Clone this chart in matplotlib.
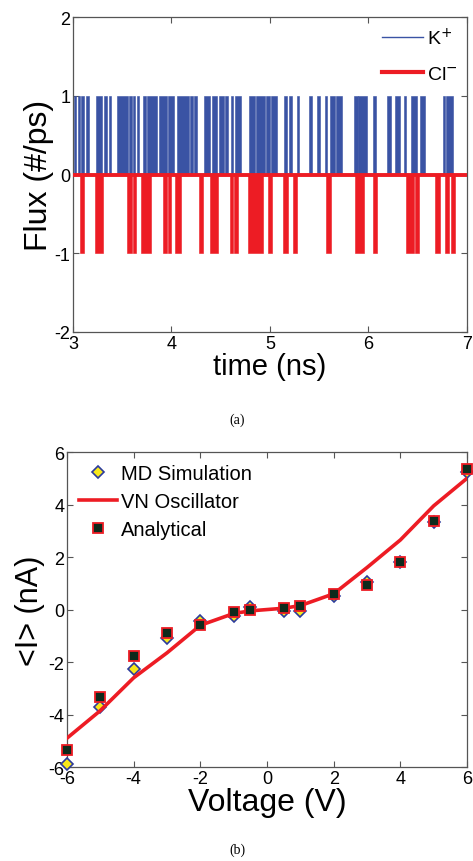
import matplotlib
matplotlib.use("Agg")
import matplotlib.pyplot as plt
from matplotlib.lines import Line2D

plt.rcParams['font.family'] = ['Liberation Sans', 'DejaVu Sans']
plt.rcParams['axes.unicode_minus'] = False

# ---- Panel (a): flux event intervals (start, end) in ns ----
k_start = [3.013, 3.047, 3.084, 3.132, 3.236, 3.317, 3.363, 3.446, 3.570, 3.608,
           3.646, 3.709, 3.756, 3.877, 3.966, 4.060, 4.185, 4.229, 4.330, 4.408,
           4.482, 4.543, 4.601, 4.644, 4.791, 4.860, 4.958, 5.009, 5.146, 5.191,
           5.270, 5.399, 5.480, 5.556, 5.607, 5.673, 5.850, 5.898, 6.046, 6.187,
           6.271, 6.357, 6.433, 6.526, 6.752, 6.789]
k_end = [3.033, 3.067, 3.114, 3.165, 3.292, 3.348, 3.388, 3.555, 3.598, 3.634,
         3.672, 3.740, 3.851, 3.952, 4.026, 4.173, 4.219, 4.262, 4.396, 4.465,
         4.533, 4.573, 4.627, 4.705, 4.850, 4.948, 4.999, 5.075, 5.171, 5.222,
         5.296, 5.425, 5.506, 5.582, 5.658, 5.734, 5.894, 5.982, 6.080, 6.230,
         6.316, 6.382, 6.491, 6.569, 6.779, 6.863]

cl_start = [3.067, 3.226, 3.553, 3.608, 3.689, 3.915, 3.966, 4.040, 4.277, 4.386,
            4.589, 4.639, 4.781, 4.979, 5.134, 5.232, 5.571, 5.863, 6.043, 6.384,
            6.476, 6.679, 6.777, 6.833]
cl_end = [3.114, 3.304, 3.598, 3.644, 3.796, 3.958, 3.993, 4.092, 4.318, 4.477,
          4.629, 4.675, 4.933, 5.019, 5.181, 5.278, 5.615, 5.951, 6.083, 6.463,
          6.516, 6.724, 6.820, 6.878]

k_flux = 1
cl_flux = -1
t_ticks = [3, 4, 5, 6, 7]
flux_ticks = [-2, -1, 0, 1, 2]

# ---- Panel (b): I-V data ----
volt = [-6, -5, -4, -3, -2, -1, -0.5, 0.5, 1, 2, 3, 4, 5, 6]
md_sim = [-5.9, -3.7, -2.27, -1.1, -0.45, -0.25, 0.1, -0.05, -0.05, 0.5, 1.05, 1.8, 3.35, 5.25]
vn_osc = [-4.9, -3.85, -2.6, -1.65, -0.6, -0.15, -0.05, 0.05, 0.15, 0.6, 1.6, 2.65, 3.95, 5.0]
analytical = [-5.35, -3.33, -1.78, -0.9, -0.57, -0.1, 0.0, 0.07, 0.12, 0.58, 0.95, 1.8, 3.38, 5.37]
v_ticks = [-6, -4, -2, 0, 2, 4, 6]
i_ticks = [-6, -4, -2, 0, 2, 4, 6]

BLUE = '#3a53a4'
RED = '#ed1c24'

fig = plt.figure(figsize=(4.73, 8.62), dpi=100)

# ---------- (a) ----------
ax1 = fig.add_axes([0.1543, 0.6137, 0.8330, 0.3654])
kw = [e - s for s, e in zip(k_start, k_end)]
ax1.bar(k_start, [k_flux] * len(k_start), width=kw, align='edge', color=BLUE,
        edgecolor=BLUE, linewidth=0.4, zorder=2)
cw = [e - s for s, e in zip(cl_start, cl_end)]
ax1.bar(cl_start, [cl_flux] * len(cl_start), width=cw, align='edge', color=RED,
        edgecolor=RED, linewidth=0.4, zorder=2)
ax1.plot([t_ticks[0], t_ticks[-1]], [0, 0], color=RED, lw=2.8, zorder=3)
ax1.set_xlim(3, 7)
ax1.set_ylim(-2, 2)
ax1.set_xticks(t_ticks)
ax1.set_yticks(flux_ticks)
ax1.set_xlabel('time (ns)', fontsize=21, labelpad=0)
ax1.set_ylabel('Flux (#/ps)', fontsize=23, labelpad=0)
handles = [Line2D([], [], color=BLUE, lw=1.0), Line2D([], [], color=RED, lw=3.0)]
ax1.legend(handles, ['K$^{+}$', 'Cl$^{\\mathsf{-}}$'], loc='upper right', frameon=False,
           fontsize=14, handlelength=2.1, handletextpad=0.2, borderaxespad=0.1,
           labelspacing=0.9)

# ---------- (b) ----------
ax2 = fig.add_axes([0.1416, 0.1090, 0.8457, 0.3654])
ax2.plot(volt, md_sim, linestyle='none', marker='D', markersize=6.5,
         markerfacecolor='#f7e81c', markeredgecolor='#2b3a9c', markeredgewidth=1.2,
         label='MD Simulation', zorder=3, clip_on=False)
ax2.plot(volt, vn_osc, color=RED, lw=2.6, label='VN Oscillator', zorder=4)
ax2.plot(volt, analytical, linestyle='none', marker='s', markersize=7.5,
         markerfacecolor='#0e2a1c', markeredgecolor=RED, markeredgewidth=1.3,
         label='Analytical', zorder=5, clip_on=False)
ax2.set_xlim(-6, 6)
ax2.set_ylim(-6, 6)
ax2.set_xticks(v_ticks)
ax2.set_yticks(i_ticks)
ax2.set_xlabel('Voltage (V)', fontsize=23, labelpad=0)
ax2.set_ylabel('<I> (nA)', fontsize=22, labelpad=2)
ax2.legend(loc='upper left', frameon=False, fontsize=14.5, handlelength=1.9,
           handletextpad=0.2, borderaxespad=0.2, labelspacing=0.45)

for ax in (ax1, ax2):
    ax.tick_params(direction='in', top=True, right=True, labelsize=13,
                   length=4, width=0.8, color='#555555', pad=2)
    for sp in ax.spines.values():
        sp.set_color('#555555')
        sp.set_linewidth(0.9)

fig.text(0.501, 0.512, '(a)', ha='center', va='center', fontsize=10,
         family=['Liberation Serif', 'DejaVu Serif'])
fig.text(0.501, 0.014, '(b)', ha='center', va='center', fontsize=10,
         family=['Liberation Serif', 'DejaVu Serif'])

fig.save_fig = None
fig.savefig('out.png', dpi=100)
